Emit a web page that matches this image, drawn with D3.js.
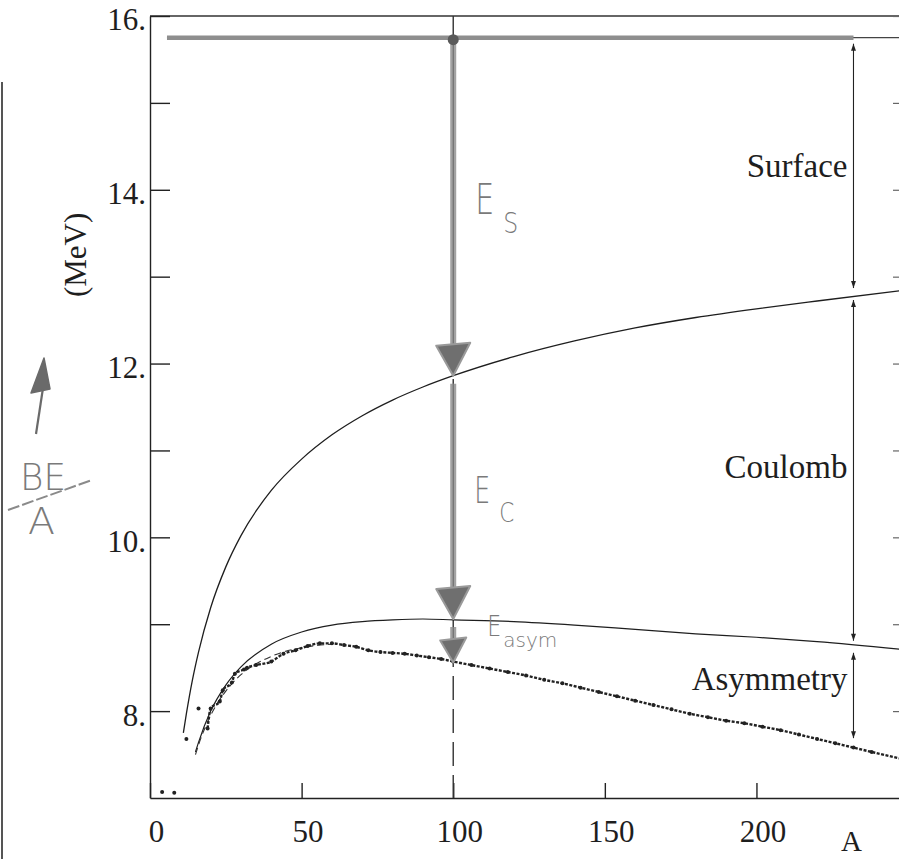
<!DOCTYPE html>
<html>
<head>
<meta charset="utf-8">
<script src="https://cdn.jsdelivr.net/npm/d3@7"></script>
<style>
body { margin: 0; background: #fff; }
svg text { font-family: "Liberation Serif", "Times New Roman", serif; fill: #1e1e1e; font-weight: normal; }
.hand { font-family: "DejaVu Sans", sans-serif !important; font-weight: 200; fill: #7a7a7a !important; }
</style>
</head>
<body>
<div id="chart"></div>
<script>
// ---------------- data ----------------
const volumeBE = 15.75;

// volume - surface
const surfA  = [11, 12, 14, 16, 20, 25, 30, 40, 50, 60, 70, 80, 90, 100, 120, 140, 160, 180, 200, 220, 248];
const surfBE = [7.75, 7.97, 8.36, 8.68, 9.19, 9.66, 10.02, 10.54, 10.90, 11.18, 11.40, 11.58, 11.73, 11.86, 12.08, 12.26, 12.41, 12.53, 12.63, 12.72, 12.84];

// volume - surface - coulomb
const coulA  = [15, 16, 20, 25, 30, 40, 50, 60, 70, 80, 90, 100, 120, 140, 160, 180, 200, 220, 248];
const coulBE = [7.53, 7.64, 8.00, 8.30, 8.51, 8.77, 8.91, 8.99, 9.03, 9.05, 9.06, 9.05, 9.03, 8.99, 8.94, 8.89, 8.85, 8.80, 8.71];

// volume - surface - coulomb - asymmetry (seen apart from the data only at low A)
const asymA  = [15, 16, 20, 25, 30, 40, 50, 60];
const asymBE = [7.50, 7.61, 7.95, 8.23, 8.42, 8.63, 8.73, 8.77];

// measured binding energy per nucleon
const isoA  = [4, 8, 12, 16];
const isoBE = [7.07, 7.06, 7.68, 8.03];
const measA  = [19, 20, 23, 24, 27, 28, 31, 32, 35, 40, 44, 48, 52, 56, 60, 64, 68, 72, 76, 80, 84, 88, 92, 96, 100, 106, 112, 118, 124, 130, 136, 142, 148, 154, 160, 166, 172, 178, 184, 190, 196, 202, 208, 214, 220, 226, 232, 238, 248];
const measBE = [7.80, 8.03, 8.11, 8.24, 8.33, 8.43, 8.48, 8.50, 8.53, 8.57, 8.66, 8.70, 8.75, 8.78, 8.78, 8.76, 8.74, 8.70, 8.68, 8.67, 8.66, 8.64, 8.62, 8.60, 8.57, 8.53, 8.49, 8.45, 8.41, 8.36, 8.32, 8.27, 8.22, 8.17, 8.12, 8.07, 8.02, 7.97, 7.93, 7.89, 7.86, 7.82, 7.78, 7.73, 7.68, 7.63, 7.58, 7.53, 7.45];

const xTicks = [0, 50, 100, 150, 200];
const yTicks = [8, 9, 10, 11, 12, 13, 14, 15, 16];
const yLabels = [8, 10, 12, 14, 16];

// bracket arrows on the right and hand drawn arrows at A = 100
const bracketA = 232;
const bracketNames = ['Surface', 'Coulomb', 'Asymmetry'];
const bracketTop = [15.75, 12.80, 8.74];
const bracketBottom = [12.80, 8.74, 7.62];
const bracketLabelBE = [14.15, 10.68, 8.24];
const handA = 100;
const handTips = [11.86, 9.06, 8.56];

// ---------------- chart ----------------
const width = 899;
const height = 859;
const margin = { top: 16, right: -3, bottom: 61, left: 150 };
const serif = '"Liberation Serif", "Times New Roman", serif';

const svg = d3.select("#chart")
    .append("svg")
    .attr("width", width)
    .attr("height", height);

const x = d3.scaleLinear()
    .domain([0, 248])
    .range([margin.left, width - margin.right]);

const y = d3.scaleLinear()
    .domain([7, 16])
    .range([height - margin.bottom, margin.top]);

// scan edge on the left
svg.append("line")
    .attr("x1", 2).attr("x2", 2)
    .attr("y1", 82).attr("y2", height)
    .attr("stroke", "#555")
    .attr("stroke-width", 2);

// top frame
svg.append("line")
    .attr("x1", x(0)).attr("x2", x(248))
    .attr("y1", y(16)).attr("y2", y(16))
    .attr("stroke", "#333")
    .attr("stroke-width", 1.3);

// left axis
const yAxis = svg.append("g")
    .attr("transform", `translate(${x(0)},0)`)
    .call(d3.axisLeft(y).tickValues(yTicks).tickSizeInner(-20).tickSizeOuter(0).tickPadding(4)
        .tickFormat(d => yLabels.includes(d) ? d + "." : ""));
yAxis.attr("font-family", serif);
yAxis.selectAll("text").style("font-family", serif).style("font-size", "31px").attr("dy", "0.45em");
yAxis.selectAll("path, line").attr("stroke", "#222").attr("stroke-width", 1.4);

// right axis (only inner ticks show)
const rAxis = svg.append("g")
    .attr("transform", `translate(${x(248)},0)`)
    .call(d3.axisRight(y).tickValues(yTicks).tickSizeInner(-9).tickSizeOuter(0).tickFormat(""));
rAxis.selectAll("path, line").attr("stroke", "#666").attr("stroke-width", 1.2);

// bottom axis
const xAxis = svg.append("g")
    .attr("transform", `translate(0,${y(7)})`)
    .call(d3.axisBottom(x).tickValues(xTicks).tickSizeInner(-15).tickSizeOuter(0).tickPadding(22));
xAxis.attr("font-family", serif);
xAxis.selectAll("text").style("font-family", serif).style("font-size", "31px").attr("x", 6);
xAxis.selectAll("path, line").attr("stroke", "#222").attr("stroke-width", 1.4);

svg.append("text")
    .attr("x", x(232) - 2)
    .attr("y", y(7) + 53)
    .attr("text-anchor", "middle")
    .style("font-size", "29px")
    .text("A");

svg.append("text")
    .attr("transform", `translate(86,${(y(13.25))}) rotate(-90)`)
    .attr("text-anchor", "middle")
    .style("font-size", "31px")
    .style("font-weight", "normal")
    .text("(MeV)");

// vertical dashed guide at A = 100
svg.append("line")
    .attr("x1", x(handA)).attr("x2", x(handA))
    .attr("y1", y(16)).attr("y2", y(7))
    .attr("stroke", "#333")
    .attr("stroke-width", 1.4)
    .attr("stroke-dasharray", "24,9");

// volume line (printed)
svg.append("line")
    .attr("x1", x(5.6)).attr("x2", x(248))
    .attr("y1", y(volumeBE)).attr("y2", y(volumeBE))
    .attr("stroke", "#444")
    .attr("stroke-width", 1.2);

const line = d3.line()
    .x(d => x(d[0]))
    .y(d => y(d[1]))
    .curve(d3.curveMonotoneX);

svg.append("path")
    .datum(surfA.map((a, i) => [a, surfBE[i]]))
    .attr("fill", "none")
    .attr("stroke", "#1e1e1e")
    .attr("stroke-width", 1.3)
    .attr("d", line);

svg.append("path")
    .datum(coulA.map((a, i) => [a, coulBE[i]]))
    .attr("fill", "none")
    .attr("stroke", "#1e1e1e")
    .attr("stroke-width", 1.2)
    .attr("d", line);

svg.append("path")
    .datum(asymA.map((a, i) => [a, asymBE[i]]))
    .attr("fill", "none")
    .attr("stroke", "#333")
    .attr("stroke-width", 1.1)
    .attr("stroke-dasharray", "7,4")
    .attr("d", line);

// measured points
svg.append("path")
    .datum(measA.map((a, i) => [a, measBE[i]]))
    .attr("fill", "none")
    .attr("stroke", "#222")
    .attr("stroke-width", 2.4)
    .attr("stroke-dasharray", "3,1.5")
    .attr("d", line);

svg.selectAll(".meas")
    .data(measA.map((a, i) => [a, measBE[i]]).concat(isoA.map((a, i) => [a, isoBE[i]])))
    .enter()
    .append("circle")
    .attr("class", "meas")
    .attr("cx", d => x(d[0]))
    .attr("cy", d => y(d[1]))
    .attr("r", 2)
    .attr("fill", "#222");

// bracket arrows with labels
const defs = svg.append("defs");
defs.append("marker")
    .attr("id", "tip")
    .attr("viewBox", "0 0 10 10")
    .attr("refX", 10).attr("refY", 5)
    .attr("markerWidth", 9).attr("markerHeight", 7)
    .attr("markerUnits", "userSpaceOnUse")
    .attr("orient", "auto-start-reverse")
    .append("path")
    .attr("d", "M0,1.5L10,5L0,8.5z")
    .attr("fill", "#222");

bracketNames.forEach((name, i) => {
    svg.append("line")
        .attr("x1", x(bracketA)).attr("x2", x(bracketA))
        .attr("y1", y(bracketTop[i]) + 6).attr("y2", y(bracketBottom[i]) - 6)
        .attr("stroke", "#222")
        .attr("stroke-width", 1.1)
        .attr("marker-start", "url(#tip)")
        .attr("marker-end", "url(#tip)");

    svg.append("text")
        .attr("x", x(bracketA) - 6)
        .attr("y", y(bracketLabelBE[i]))
        .attr("text-anchor", "end")
        .style("font-size", "33px")
        .text(name);
});

// ---------------- pencil annotations ----------------
const pencil = "#8e8e8e";

svg.append("line")
    .attr("x1", x(5.6)).attr("x2", x(bracketA))
    .attr("y1", y(volumeBE)).attr("y2", y(volumeBE))
    .attr("stroke", pencil)
    .attr("stroke-width", 4.5);

// shafts between the arrow heads
const shaftTops = [volumeBE, handTips[0], handTips[1]];
handTips.forEach((tip, i) => {
    const headH = i < 2 ? 30 : 22;
    const headW = i < 2 ? 17 : 13;
    const xa = x(handA);
    svg.append("line")
        .attr("x1", xa).attr("x2", xa)
        .attr("y1", y(shaftTops[i]) + (i ? 8 : 0))
        .attr("y2", y(tip) - headH + 2)
        .attr("stroke", "#a2a2a2")
        .attr("stroke-width", 6);
    svg.append("line")
        .attr("x1", xa).attr("x2", xa)
        .attr("y1", y(shaftTops[i]) + (i ? 8 : 0))
        .attr("y2", y(tip) - headH + 2)
        .attr("stroke", "#666")
        .attr("stroke-width", 1);
    svg.append("path")
        .attr("d", `M${xa - headW},${y(tip) - headH}L${xa + headW},${y(tip) - headH - 3}L${xa},${y(tip)}Z`)
        .attr("fill", "#6f6f6f")
        .attr("stroke", "#9a9a9a")
        .attr("stroke-width", 2)
        .attr("stroke-linejoin", "round");
});

svg.append("circle")
    .attr("cx", x(handA))
    .attr("cy", y(volumeBE) + 2)
    .attr("r", 5.5)
    .attr("fill", "#5a5a5a");

function handText(px, py, str, size, len) {
    svg.append("text")
        .attr("class", "hand")
        .attr("x", px)
        .attr("y", py)
        .attr("textLength", len)
        .attr("lengthAdjust", "spacingAndGlyphs")
        .style("font-size", size + "px")
        .text(str);
}

const xa = x(handA);
handText(xa + 22, y(13.72), "E", 42, 19);
handText(xa + 50, y(13.50), "S", 28, 15);
handText(xa + 21, y(10.4), "E", 38, 16);
handText(xa + 46, y(10.18), "C", 26, 15);
handText(xa + 34, y(8.86), "E", 28, 14);
handText(xa + 50, y(8.74), "asym", 20, 54);

// BE/A note on the left
svg.append("line")
    .attr("x1", 36).attr("x2", 43)
    .attr("y1", 434).attr("y2", 388)
    .attr("stroke", "#6a6a6a")
    .attr("stroke-width", 2.2);
svg.append("path")
    .attr("d", "M31,393L50,389L44,358Z")
    .attr("fill", "#6a6a6a")
    .attr("stroke", "#6a6a6a")
    .attr("stroke-width", 1.5)
    .attr("stroke-linejoin", "round");

handText(20, 490, "BE", 38, 46);
svg.append("line")
    .attr("x1", 8).attr("x2", 92)
    .attr("y1", 510).attr("y2", 480)
    .attr("stroke", "#8a8a8a")
    .attr("stroke-width", 2)
    .attr("stroke-dasharray", "12,3");
handText(28, 534, "A", 38, 27);
</script>
</body>
</html>
